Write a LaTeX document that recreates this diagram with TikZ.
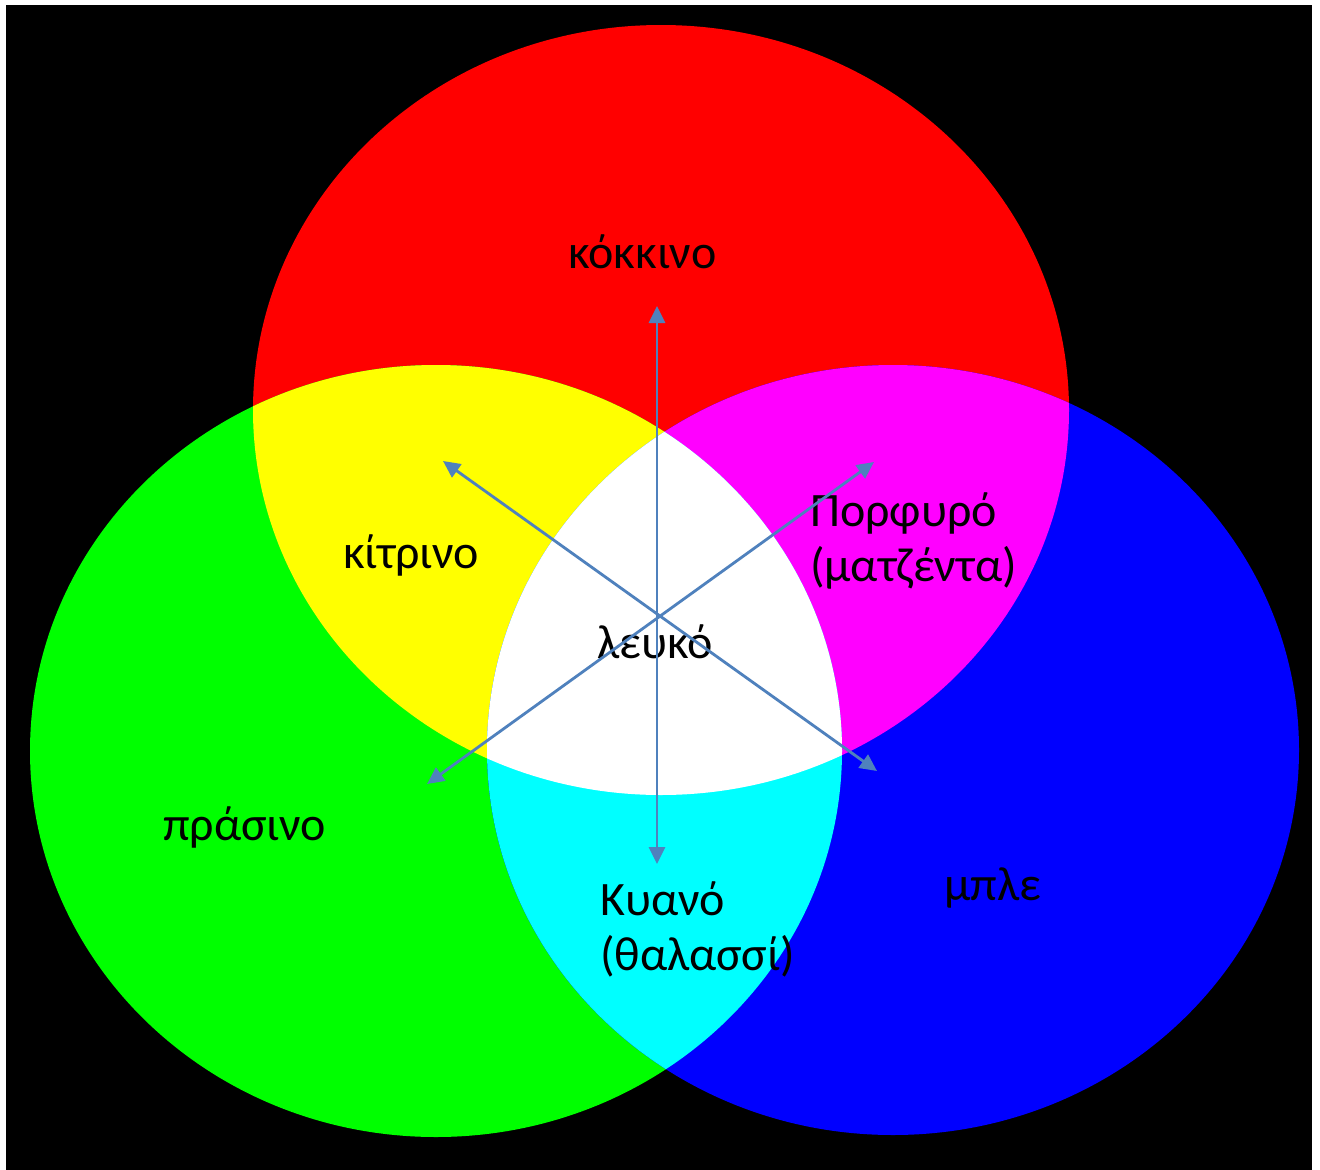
\documentclass[tikz,border=0pt]{standalone}
\usepackage{fontspec}
\setmainfont{Carlito}
\usepackage{tikz}
\usetikzlibrary{arrows.meta, positioning}
\definecolor{rgbred}{RGB}{255, 0, 0}
\definecolor{rgbgreen}{RGB}{0, 255, 0}
\definecolor{rgbblue}{RGB}{0, 0, 255}
\definecolor{rgbyellow}{RGB}{255, 255, 0}
\definecolor{rgbmagenta}{RGB}{255, 0, 255}
\definecolor{rgbcyan}{RGB}{0, 255, 255}
\definecolor{arrowblue}{RGB}{79, 129, 189}
\newcommand{\redlight}{(661,410) ellipse [x radius=408pt, y radius=385pt]}
\newcommand{\greenlight}{(436,751) ellipse [x radius=406pt, y radius=386pt]}
\newcommand{\bluelight}{(893,750) ellipse [x radius=406pt, y radius=385pt]}

\begin{document}
\begin{tikzpicture}[x=1pt, y=-1pt,
    lbl/.style={anchor=base west, inner sep=0pt, align=left, font=\fontsize{48}{55}\selectfont},
    mixarrow/.style={{Triangle[length=17pt, width=16pt]}-{Triangle[length=17pt, width=16pt]}, line width=2.8pt, arrowblue}]
  \useasboundingbox (0,0) rectangle (1320,1170);
  \fill[black] (6,5) rectangle (1312,1170);
  % primary lights
  \fill[rgbred] \redlight;
  \fill[rgbgreen] \greenlight;
  \fill[rgbblue] \bluelight;
  % pairwise sums
  \begin{scope}
    \clip \redlight;
    \fill[rgbyellow] \greenlight;
    \fill[rgbmagenta] \bluelight;
  \end{scope}
  \begin{scope}
    \clip \greenlight;
    \fill[rgbcyan] \bluelight;
    \clip \bluelight;
    \fill[white] \redlight;
  \end{scope}
  % labels
  \node[lbl] (kokkino) at (568,268) {κόκκινο};
  \node[lbl] (kitrino) at (343,568) {κίτρινο};
  \node[lbl] (porfyro) at (810,581) {Πορφυρό\\(ματζέντα)};
  \node[lbl] (lefko) at (597,658) {λευκό};
  \node[lbl] (prasino) at (163,840) {πράσινο};
  \node[lbl] (kyano) at (600,970) {Κυανό\\(θαλασσί)};
  \node[lbl] (mple) at (944,900) {μπλε};
  % arrows through the white centre
  \coordinate (uptip) at (657,306);
  \coordinate (downtip) at (657,864);
  \coordinate (yellowtip) at (443,461);
  \coordinate (bluetip) at (877,771);
  \coordinate (magentatip) at (874,462);
  \coordinate (greentip) at (427,784);
  \draw[mixarrow] (downtip) -- (uptip);
  \draw[mixarrow] (bluetip) -- (yellowtip);
  \draw[mixarrow] (greentip) -- (magentatip);
\end{tikzpicture}
\end{document}
